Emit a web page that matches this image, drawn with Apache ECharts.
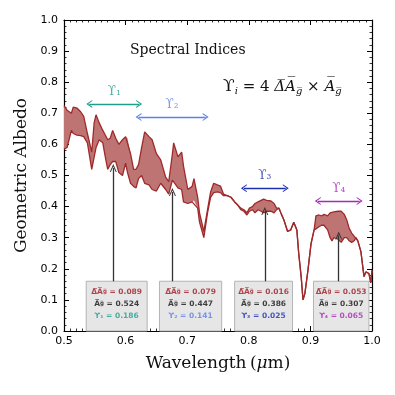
<!DOCTYPE html>
<html>
<head>
<meta charset="utf-8">
<script src="https://cdn.jsdelivr.net/npm/echarts/dist/echarts.min.js"></script>
<style>
  html, body { margin: 0; padding: 0; background: #fff; }
  #chart { width: 395px; height: 395px; }
</style>
</head>
<body>
<div id="chart"></div>
<script>
// 波长 (μm)
const wavelength = [
  0.500, 0.505, 0.512, 0.515, 0.521, 0.527, 0.532, 0.538, 0.545, 0.549,
  0.552, 0.557, 0.563, 0.567, 0.571, 0.575, 0.579, 0.584, 0.589, 0.595,
  0.600, 0.603, 0.608, 0.613, 0.617, 0.621, 0.626, 0.631, 0.638, 0.643,
  0.650, 0.657, 0.665, 0.670, 0.676, 0.678, 0.685, 0.691, 0.694, 0.701,
  0.708, 0.711, 0.717, 0.720, 0.727, 0.733, 0.738, 0.743, 0.749, 0.754,
  0.759, 0.765, 0.771, 0.777, 0.782, 0.787, 0.792, 0.797, 0.801, 0.806,
  0.810, 0.815, 0.820, 0.824, 0.829, 0.836, 0.841, 0.845, 0.849, 0.853,
  0.857, 0.863, 0.868, 0.873, 0.878, 0.881, 0.885, 0.888, 0.891, 0.896,
  0.901, 0.906, 0.909, 0.914, 0.918, 0.922, 0.928, 0.932, 0.935, 0.938,
  0.941, 0.945, 0.950, 0.955, 0.959, 0.963, 0.967, 0.971, 0.974, 0.977,
  0.982, 0.987, 0.990, 0.992, 0.995, 0.998, 1.000
];

// 上边界
const upperAlbedo = [
  0.725, 0.710, 0.700, 0.720, 0.717, 0.705, 0.690, 0.635, 0.575, 0.670,
  0.695, 0.670, 0.645, 0.630, 0.615, 0.620, 0.645, 0.620, 0.600, 0.615,
  0.625, 0.620, 0.570, 0.520, 0.520, 0.535, 0.590, 0.640, 0.625, 0.615,
  0.570, 0.550, 0.495, 0.480, 0.570, 0.605, 0.560, 0.575, 0.530, 0.455,
  0.465, 0.490, 0.430, 0.380, 0.320, 0.390, 0.447, 0.475, 0.470, 0.466,
  0.440, 0.435, 0.430, 0.415, 0.405, 0.395, 0.390, 0.380, 0.395, 0.400,
  0.410, 0.415, 0.420, 0.424, 0.420, 0.418, 0.410, 0.395, 0.395, 0.375,
  0.357, 0.320, 0.325, 0.350, 0.325, 0.250, 0.175, 0.100, 0.120, 0.195,
  0.280, 0.325, 0.370, 0.373, 0.370, 0.375, 0.370, 0.380, 0.380, 0.383,
  0.383, 0.385, 0.385, 0.375, 0.357, 0.330, 0.315, 0.305, 0.300, 0.290,
  0.255, 0.175, 0.190, 0.195, 0.185, 0.155, 0.195
];

// 下边界
const lowerAlbedo = [
  0.585, 0.590, 0.645, 0.635, 0.630, 0.628, 0.625, 0.605, 0.520, 0.560,
  0.590, 0.615, 0.605, 0.560, 0.520, 0.535, 0.545, 0.545, 0.510, 0.500,
  0.540, 0.510, 0.475, 0.465, 0.460, 0.490, 0.500, 0.475, 0.470, 0.455,
  0.450, 0.475, 0.455, 0.440, 0.485, 0.480, 0.460, 0.455, 0.415, 0.410,
  0.415, 0.420, 0.395, 0.350, 0.300, 0.380, 0.430, 0.445, 0.447, 0.445,
  0.435, 0.435, 0.430, 0.415, 0.405, 0.390, 0.385, 0.373, 0.385, 0.390,
  0.380, 0.390, 0.385, 0.380, 0.385, 0.385, 0.380, 0.390, 0.395, 0.375,
  0.357, 0.320, 0.325, 0.350, 0.325, 0.250, 0.175, 0.100, 0.120, 0.195,
  0.280, 0.325, 0.325, 0.335, 0.340, 0.340, 0.325, 0.300, 0.290, 0.300,
  0.300, 0.295, 0.285, 0.300, 0.300, 0.290, 0.285, 0.290, 0.300, 0.290,
  0.255, 0.175, 0.190, 0.195, 0.185, 0.155, 0.195
];

// 光谱指数
const indexNames = ['ϒ₁', 'ϒ₂', 'ϒ₃', 'ϒ₄'];
const indexRanges = [[0.541, 0.622], [0.621, 0.730], [0.792, 0.860], [0.912, 0.980]];
const deltaAg = [0.089, 0.079, 0.016, 0.053];
const meanAg = [0.524, 0.447, 0.386, 0.307];
const upsilon = [0.186, 0.141, 0.025, 0.065];
const arrowWavelength = [0.580, 0.676, 0.826, 0.946];

// 坐标轴刻度
const xTicks = [0.5, 0.6, 0.7, 0.8, 0.9, 1.0];
const yTicks = [0.0, 0.1, 0.2, 0.3, 0.4, 0.5, 0.6, 0.7, 0.8, 0.9, 1.0];

// 布局 / 样式
const indexColors = ['#1f9e8e', '#5b80ea', '#1f2fb4', '#a52ab4'];
const rangeArrowY = [0.73, 0.688, 0.459, 0.418];
const boxRanges = [[0.536, 0.635], [0.655, 0.756], [0.777, 0.871], [0.905, 0.995]];
const boxTop = 0.16;
const lineColor = '#9e2a2b';
const fillColor = '#bf7474';
const serif = '"DejaVu Serif", "Liberation Serif", serif';
const sans = '"DejaVu Sans", sans-serif';
const ol = s => s.split('').map(c => c + '\u0305').join('');

const chart = echarts.init(document.getElementById('chart'), null, { renderer: 'canvas' });

const upperData = wavelength.map((w, i) => [w, upperAlbedo[i]]);
const lowerData = wavelength.map((w, i) => [w, lowerAlbedo[i]]);

// 填充带：上边界 + 反向下边界
const renderBand = (params, api) => {
  const pts = upperData.map(d => api.coord(d))
    .concat(lowerData.slice().reverse().map(d => api.coord(d)));
  return {
    type: 'polygon',
    shape: { points: pts },
    style: { fill: fillColor, stroke: 'none' }
  };
};

const chevron = 'path://M0,10 L5,0 L10,10 L8.6,10 L5,3.2 L1.4,10 Z';

// 双向箭头 + 竖直箭头
const markLines = [];
indexRanges.forEach((r, i) => {
  markLines.push([
    { coord: [r[0], rangeArrowY[i]], symbol: chevron, symbolSize: [8, 6], lineStyle: { color: indexColors[i], width: 1.4, type: 'solid' } },
    { coord: [r[1], rangeArrowY[i]], symbol: chevron, symbolSize: [8, 6] }
  ]);
});
arrowWavelength.forEach((w, i) => {
  markLines.push([
    { coord: [w, boxTop], symbol: 'none', lineStyle: { color: '#333', width: 1.3, type: 'solid' } },
    { coord: [w, meanAg[i]], symbol: chevron, symbolSize: [7, 8] }
  ]);
});

const axisCommon = {
  type: 'value',
  splitLine: { show: false },
  axisLine: { show: true, onZero: false, lineStyle: { color: '#000', width: 1.2 } },
  axisTick: { show: true, inside: true, length: 5, lineStyle: { color: '#000', width: 1 } },
  minorTick: { show: true, length: 2.5, lineStyle: { color: '#000', width: 0.8 } }
};

const richBase = { fontFamily: serif, color: '#111', fontWeight: 'normal' };

const option = {
  animation: false,
  backgroundColor: '#fff',
  grid: { left: 64, right: 23, top: 20, bottom: 64 },
  title: [
    {
      text: 'Spectral Indices', left: 125, top: 38,
      textStyle: { fontFamily: serif, fontSize: 14, fontWeight: 'normal', color: '#111' }
    },
    {
      text: '{u|ϒ}{s|i}{n| = 4 }{it|' + ol('ΔA') + '}{s|' + ol('g') + '}{n| × }{it|' + ol('A') + '}{s|' + ol('g') + '}',
      left: 218, top: 73,
      textStyle: {
        fontWeight: 'normal',
        rich: {
          u: { ...richBase, fontSize: 17 },
          n: { ...richBase, fontSize: 15 },
          it: { ...richBase, fontSize: 15, fontStyle: 'italic' },
          s: { ...richBase, fontSize: 10, fontStyle: 'italic', padding: [8, 0, 0, 0] }
        }
      }
    }
  ],
  xAxis: [
    {
      ...axisCommon, position: 'bottom', min: 0.5, max: 1.0, interval: 0.1,
      minorTick: { ...axisCommon.minorTick, splitNumber: 10 },
      axisLabel: { formatter: v => v.toFixed(1), fontFamily: sans, fontSize: 11, color: '#000', margin: 5,
        customValues: xTicks },
      name: '{n|Wavelength\u2009(}{i|μ}{n|m)}', nameLocation: 'middle', nameGap: 24,
      nameTextStyle: { rich: {
        n: { ...richBase, fontSize: 17 },
        i: { ...richBase, fontSize: 17, fontStyle: 'italic' }
      } }
    },
    {
      ...axisCommon, position: 'top', min: 0.5, max: 1.0, interval: 0.1,
      minorTick: { ...axisCommon.minorTick, splitNumber: 10 },
      axisLabel: { show: false }
    }
  ],
  yAxis: [
    {
      ...axisCommon, position: 'left', min: 0, max: 1, interval: 0.1,
      minorTick: { ...axisCommon.minorTick, splitNumber: 5 },
      axisLabel: { formatter: v => v.toFixed(1), fontFamily: sans, fontSize: 11, color: '#000', margin: 6,
        customValues: yTicks },
      name: 'Geometric Albedo', nameLocation: 'middle', nameGap: 34,
      nameTextStyle: { fontFamily: serif, fontSize: 17, color: '#111' }
    },
    {
      ...axisCommon, position: 'right', min: 0, max: 1, interval: 0.1,
      minorTick: { ...axisCommon.minorTick, splitNumber: 5 },
      axisLabel: { show: false }
    }
  ],
  series: [
    {
      name: 'band', type: 'custom', renderItem: renderBand,
      data: [[wavelength[0], upperAlbedo[0]]], z: 2, silent: true
    },
    {
      name: 'upper', type: 'line', data: upperData,
      symbol: 'none', z: 3,
      lineStyle: { color: lineColor, width: 1.3 }
    },
    {
      name: 'lower', type: 'line', data: lowerData,
      symbol: 'none', z: 3,
      lineStyle: { color: lineColor, width: 1.3 }
    },
    {
      name: 'annotations', type: 'line', data: [], z: 5,
      markArea: {
        silent: true,
        itemStyle: { color: '#e6e6e6', borderColor: '#b4b4b4', borderWidth: 1 },
        data: boxRanges.map(r => [{ coord: [r[0], 0] }, { coord: [r[1], boxTop] }])
      },
      markLine: { silent: true, animation: false, label: { show: false }, data: markLines }
    },
    {
      name: 'index labels', type: 'scatter', symbolSize: 0, z: 6,
      data: indexRanges.map((r, i) => ({
        value: [(r[0] + r[1]) / 2, rangeArrowY[i] + 0.04],
        label: { show: true, formatter: indexNames[i], color: indexColors[i],
          fontFamily: serif, fontSize: 12, position: 'inside' }
      }))
    },
    {
      name: 'box text', type: 'scatter', symbolSize: 0, z: 10,
      data: boxRanges.map((r, i) => ({
        value: [(r[0] + r[1]) / 2, 0.087],
        label: {
          show: true, position: 'inside', lineHeight: 12,
          formatter: [
            '{d|' + ol('ΔA') + '}{dg|' + ol('g') + '}{d| = ' + deltaAg[i].toFixed(3) + '}',
            '{k|' + ol('A') + '}{kg|' + ol('g') + '}{k| = ' + meanAg[i].toFixed(3) + '}',
            '{c' + i + '|' + indexNames[i] + ' = ' + upsilon[i].toFixed(3) + '}'
          ].join('\n'),
          rich: {
            d: { color: '#a01c24', fontFamily: sans, fontWeight: 'bold', fontSize: 7.5, lineHeight: 12 },
            dg: { color: '#a01c24', fontFamily: sans, fontWeight: 'bold', fontSize: 5.5, lineHeight: 12 },
            k: { color: '#111', fontFamily: sans, fontWeight: 'bold', fontSize: 7.5, lineHeight: 12 },
            kg: { color: '#111', fontFamily: sans, fontWeight: 'bold', fontSize: 5.5, lineHeight: 12 },
            c0: { color: indexColors[0], fontFamily: sans, fontWeight: 'bold', fontSize: 7.5, lineHeight: 12 },
            c1: { color: indexColors[1], fontFamily: sans, fontWeight: 'bold', fontSize: 7.5, lineHeight: 12 },
            c2: { color: indexColors[2], fontFamily: sans, fontWeight: 'bold', fontSize: 7.5, lineHeight: 12 },
            c3: { color: indexColors[3], fontFamily: sans, fontWeight: 'bold', fontSize: 7.5, lineHeight: 12 }
          }
        }
      }))
    }
  ]
};

chart.setOption(option);

window.addEventListener('resize', () => chart.resize());
</script>
</body>
</html>
